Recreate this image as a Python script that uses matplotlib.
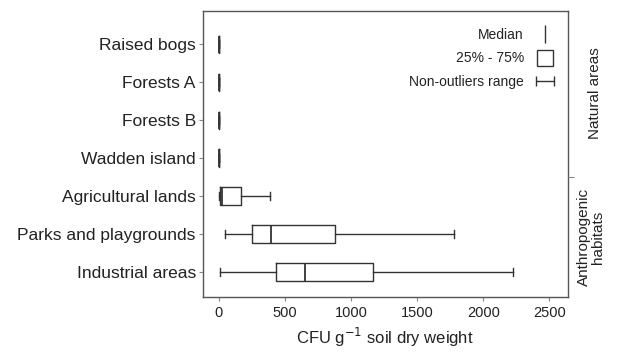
import matplotlib.pyplot as plt
from matplotlib.lines import Line2D
from matplotlib.path import Path
from matplotlib import transforms

plt.rcParams['font.family'] = ['Liberation Sans', 'DejaVu Sans']

categories = ["Raised bogs", "Forests A", "Forests B", "Wadden island",
              "Agricultural lands", "Parks and playgrounds", "Industrial areas"]
whisker_low = [0, 0, 0, 0, 0, 50, 8]
q1 = [0, 0, 0, 0, 13, 250, 432]
median = [2, 2, 2, 2, 25, 394, 652]
q3 = [5, 5, 5, 5, 167, 879, 1164]
whisker_high = [5, 5, 5, 5, 386, 1780, 2227]
groups = ["Natural areas", "Anthropogenic\nhabitats"]

stats = []
for i in range(len(categories)):
    stats.append({'whislo': whisker_low[i], 'q1': q1[i], 'med': median[i],
                  'q3': q3[i], 'whishi': whisker_high[i], 'fliers': []})

col = '#333333'
fig = plt.figure(figsize=(6.2, 3.57), dpi=100)
ax = fig.add_axes([0.327, 0.168, 0.589, 0.801])
pos = list(range(len(categories)))
ax.bxp(stats, positions=pos, widths=0.45, capwidths=0.2, orientation='horizontal',
       showfliers=False,
       boxprops=dict(color=col, linewidth=1.0),
       medianprops=dict(color=col, linewidth=1.3),
       whiskerprops=dict(color=col, linewidth=1.0),
       capprops=dict(color=col, linewidth=1.0))

ax.set_ylim(6.66, -0.87)
ax.set_xlim(-120, 2640)
ax.set_yticks(pos)
ax.set_yticklabels(categories, fontsize=12.5, color='#222222')
ax.set_xticks([0, 500, 1000, 1500, 2000, 2500])
ax.tick_params(axis='x', labelsize=10.5, length=3, color='#888888', labelcolor='#222222')
ax.tick_params(axis='y', length=3, color='#888888', pad=2)
for s in ax.spines.values():
    s.set_color('#555555')
    s.set_linewidth(1.0)
ax.set_xlabel("CFU g$^{-1}$ soil dry weight", fontsize=12, color='#222222', labelpad=4)

# separator tick on the right between groups
ax2 = ax.twinx()
ax2.set_ylim(ax.get_ylim())
ax2.set_yticks([3.5])
ax2.set_yticklabels([])
ax2.tick_params(axis='y', length=4, color='#888888')
for s in ax2.spines.values():
    s.set_visible(False)

trans = transforms.blended_transform_factory(ax.transAxes, ax.transData)
ax.text(1.073, 1.3, groups[0], transform=trans, rotation=90, ha='center', va='center',
        fontsize=11, color='#222222')
ax.text(1.062, 5.08, groups[1], transform=trans, rotation=90, ha='center', va='center',
        fontsize=11, color='#222222', multialignment='center', linespacing=1.0)

# legend
whisk = Path([(-1, -0.6), (-1, 0.6), (-1, 0), (1, 0), (1, 0.6), (1, -0.6)],
             [Path.MOVETO, Path.LINETO, Path.MOVETO, Path.LINETO, Path.MOVETO, Path.LINETO])
handles = [
    Line2D([], [], linestyle='none', marker='|', markersize=13, color=col, markeredgewidth=1.0),
    Line2D([], [], linestyle='none', marker='s', markersize=12, markerfacecolor='white',
           markeredgecolor=col, markeredgewidth=1.0),
    Line2D([], [], linestyle='none', marker=whisk, markersize=13, color=col,
           markeredgewidth=1.0, fillstyle='none'),
]
ax.legend(handles, ["Median", "25% - 75%", "Non-outliers range"], loc='upper right',
          frameon=False, markerfirst=False, fontsize=10, handlelength=1.2,
          handletextpad=0.9, labelspacing=0.7, borderaxespad=0.8,
          bbox_to_anchor=(1.005, 1.0), labelcolor='#222222')

fig.savefig('out.png', dpi=100)
